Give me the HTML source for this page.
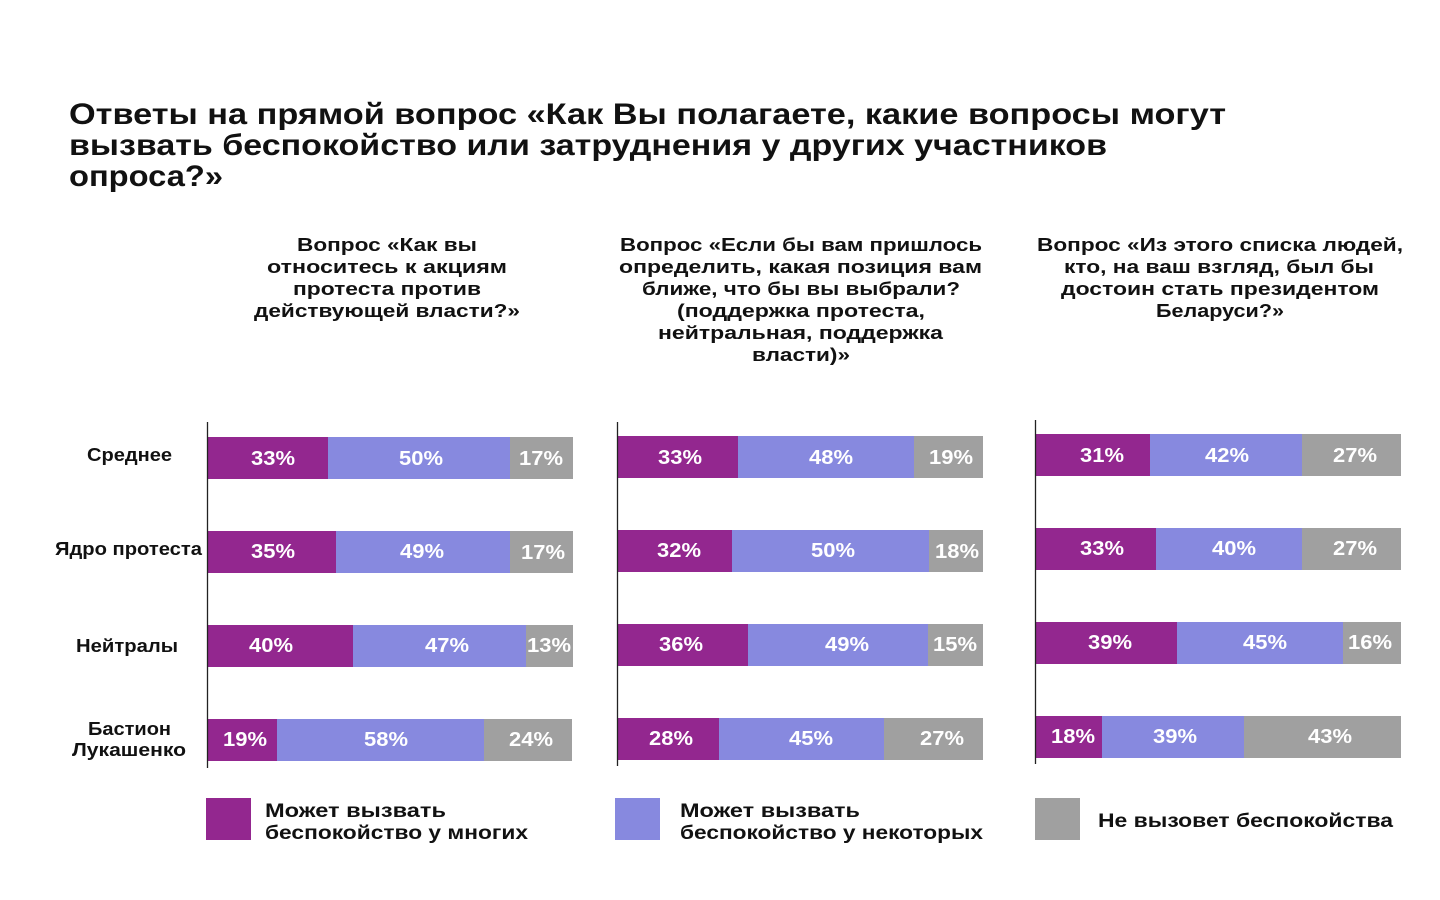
<!DOCTYPE html>
<html>
<head>
<meta charset="utf-8">
<style>
  html,body{margin:0;padding:0;background:#fff;}
  svg{display:block;}
  text{font-family:"Liberation Sans","DejaVu Sans",sans-serif;font-weight:bold;}
  .t{font-size:29.5px;fill:#111;}
  .h{font-size:18.5px;fill:#111;}
  .r{font-size:18px;fill:#111;}
  .p{font-size:20px;fill:#fff;}
  .l{font-size:19px;fill:#111;}
</style>
</head>
<body>
<svg width="1440" height="900" viewBox="0 0 1440 900" xmlns="http://www.w3.org/2000/svg">
  <rect width="1440" height="900" fill="#fff"/>

  <!-- Title -->
  <text class="t" x="69" y="124" textLength="1157" lengthAdjust="spacingAndGlyphs">Ответы на прямой вопрос «Как Вы полагаете, какие вопросы могут</text>
  <text class="t" x="69" y="155" textLength="1038" lengthAdjust="spacingAndGlyphs">вызвать беспокойство или затруднения у других участников</text>
  <text class="t" x="69" y="186" textLength="154" lengthAdjust="spacingAndGlyphs">опроса?»</text>

  <!-- Panel headers -->
  <text class="h" x="297" y="251" textLength="180" lengthAdjust="spacingAndGlyphs">Вопрос «Как вы</text>
  <text class="h" x="267" y="273" textLength="240" lengthAdjust="spacingAndGlyphs">относитесь к акциям</text>
  <text class="h" x="293" y="295" textLength="188" lengthAdjust="spacingAndGlyphs">протеста против</text>
  <text class="h" x="254" y="317" textLength="266" lengthAdjust="spacingAndGlyphs">действующей власти?»</text>

  <text class="h" x="620" y="251" textLength="362" lengthAdjust="spacingAndGlyphs">Вопрос «Если бы вам пришлось</text>
  <text class="h" x="619" y="273" textLength="363" lengthAdjust="spacingAndGlyphs">определить, какая позиция вам</text>
  <text class="h" x="642" y="295" textLength="318" lengthAdjust="spacingAndGlyphs">ближе, что бы вы выбрали?</text>
  <text class="h" x="677" y="317" textLength="248" lengthAdjust="spacingAndGlyphs">(поддержка протеста,</text>
  <text class="h" x="658" y="339" textLength="285" lengthAdjust="spacingAndGlyphs">нейтральная, поддержка</text>
  <text class="h" x="752" y="361" textLength="98" lengthAdjust="spacingAndGlyphs">власти)»</text>

  <text class="h" x="1037" y="251" textLength="366" lengthAdjust="spacingAndGlyphs">Вопрос «Из этого списка людей,</text>
  <text class="h" x="1064" y="273" textLength="310" lengthAdjust="spacingAndGlyphs">кто, на ваш взгляд, был бы</text>
  <text class="h" x="1061" y="295" textLength="318" lengthAdjust="spacingAndGlyphs">достоин стать президентом</text>
  <text class="h" x="1156" y="317" textLength="128" lengthAdjust="spacingAndGlyphs">Беларуси?»</text>

  <!-- Row labels -->
  <text class="r" x="87" y="461" textLength="85" lengthAdjust="spacingAndGlyphs">Среднее</text>
  <text class="r" x="55" y="555" textLength="147" lengthAdjust="spacingAndGlyphs">Ядро протеста</text>
  <text class="r" x="76" y="652" textLength="102" lengthAdjust="spacingAndGlyphs">Нейтралы</text>
  <text class="r" x="88" y="735" textLength="83" lengthAdjust="spacingAndGlyphs">Бастион</text>
  <text class="r" x="72" y="756" textLength="114" lengthAdjust="spacingAndGlyphs">Лукашенко</text>

  <!-- Panel 1 bars -->
  <g>
    <rect x="208" y="437" width="120" height="42" fill="#93278F"/>
    <rect x="328" y="437" width="182" height="42" fill="#8789DF"/>
    <rect x="510" y="437" width="63" height="42" fill="#A0A0A0"/>

    <rect x="208" y="531" width="128" height="42" fill="#93278F"/>
    <rect x="336" y="531" width="174" height="42" fill="#8789DF"/>
    <rect x="510" y="531" width="63" height="42" fill="#A0A0A0"/>

    <rect x="208" y="625" width="145" height="42" fill="#93278F"/>
    <rect x="353" y="625" width="173" height="42" fill="#8789DF"/>
    <rect x="526" y="625" width="47" height="42" fill="#A0A0A0"/>

    <rect x="208" y="719" width="69" height="42" fill="#93278F"/>
    <rect x="277" y="719" width="207" height="42" fill="#8789DF"/>
    <rect x="484" y="719" width="88" height="42" fill="#A0A0A0"/>
  </g>
  <line x1="207.5" y1="422" x2="207.5" y2="768" stroke="#222" stroke-width="1.3"/>

  <!-- Panel 2 bars -->
  <g>
    <rect x="618" y="436" width="120" height="42" fill="#93278F"/>
    <rect x="738" y="436" width="176" height="42" fill="#8789DF"/>
    <rect x="914" y="436" width="69" height="42" fill="#A0A0A0"/>

    <rect x="618" y="530" width="114" height="42" fill="#93278F"/>
    <rect x="732" y="530" width="197" height="42" fill="#8789DF"/>
    <rect x="929" y="530" width="54" height="42" fill="#A0A0A0"/>

    <rect x="618" y="624" width="130" height="42" fill="#93278F"/>
    <rect x="748" y="624" width="180" height="42" fill="#8789DF"/>
    <rect x="928" y="624" width="55" height="42" fill="#A0A0A0"/>

    <rect x="618" y="718" width="101" height="42" fill="#93278F"/>
    <rect x="719" y="718" width="165" height="42" fill="#8789DF"/>
    <rect x="884" y="718" width="99" height="42" fill="#A0A0A0"/>
  </g>
  <line x1="617.5" y1="422" x2="617.5" y2="766" stroke="#222" stroke-width="1.3"/>

  <!-- Panel 3 bars -->
  <g>
    <rect x="1036" y="434" width="114" height="42" fill="#93278F"/>
    <rect x="1150" y="434" width="152" height="42" fill="#8789DF"/>
    <rect x="1302" y="434" width="99" height="42" fill="#A0A0A0"/>

    <rect x="1036" y="528" width="120" height="42" fill="#93278F"/>
    <rect x="1156" y="528" width="146" height="42" fill="#8789DF"/>
    <rect x="1302" y="528" width="99" height="42" fill="#A0A0A0"/>

    <rect x="1036" y="622" width="141" height="42" fill="#93278F"/>
    <rect x="1177" y="622" width="166" height="42" fill="#8789DF"/>
    <rect x="1343" y="622" width="58" height="42" fill="#A0A0A0"/>

    <rect x="1036" y="716" width="66" height="42" fill="#93278F"/>
    <rect x="1102" y="716" width="142" height="42" fill="#8789DF"/>
    <rect x="1244" y="716" width="157" height="42" fill="#A0A0A0"/>
  </g>
  <line x1="1035.5" y1="420" x2="1035.5" y2="764" stroke="#222" stroke-width="1.3"/>

  <!-- Percent labels panel 1 -->
  <text class="p" x="251" y="465" textLength="44" lengthAdjust="spacingAndGlyphs">33%</text>
  <text class="p" x="399" y="465" textLength="44" lengthAdjust="spacingAndGlyphs">50%</text>
  <text class="p" x="519" y="465" textLength="44" lengthAdjust="spacingAndGlyphs">17%</text>

  <text class="p" x="251" y="558" textLength="44" lengthAdjust="spacingAndGlyphs">35%</text>
  <text class="p" x="400" y="558" textLength="44" lengthAdjust="spacingAndGlyphs">49%</text>
  <text class="p" x="521" y="559" textLength="44" lengthAdjust="spacingAndGlyphs">17%</text>

  <text class="p" x="249" y="652" textLength="44" lengthAdjust="spacingAndGlyphs">40%</text>
  <text class="p" x="425" y="652" textLength="44" lengthAdjust="spacingAndGlyphs">47%</text>
  <text class="p" x="527" y="652" textLength="44" lengthAdjust="spacingAndGlyphs">13%</text>

  <text class="p" x="223" y="746" textLength="44" lengthAdjust="spacingAndGlyphs">19%</text>
  <text class="p" x="364" y="746" textLength="44" lengthAdjust="spacingAndGlyphs">58%</text>
  <text class="p" x="509" y="746" textLength="44" lengthAdjust="spacingAndGlyphs">24%</text>

  <!-- Percent labels panel 2 -->
  <text class="p" x="658" y="464" textLength="44" lengthAdjust="spacingAndGlyphs">33%</text>
  <text class="p" x="809" y="464" textLength="44" lengthAdjust="spacingAndGlyphs">48%</text>
  <text class="p" x="929" y="464" textLength="44" lengthAdjust="spacingAndGlyphs">19%</text>

  <text class="p" x="657" y="557" textLength="44" lengthAdjust="spacingAndGlyphs">32%</text>
  <text class="p" x="811" y="557" textLength="44" lengthAdjust="spacingAndGlyphs">50%</text>
  <text class="p" x="935" y="558" textLength="44" lengthAdjust="spacingAndGlyphs">18%</text>

  <text class="p" x="659" y="651" textLength="44" lengthAdjust="spacingAndGlyphs">36%</text>
  <text class="p" x="825" y="651" textLength="44" lengthAdjust="spacingAndGlyphs">49%</text>
  <text class="p" x="933" y="651" textLength="44" lengthAdjust="spacingAndGlyphs">15%</text>

  <text class="p" x="649" y="745" textLength="44" lengthAdjust="spacingAndGlyphs">28%</text>
  <text class="p" x="789" y="745" textLength="44" lengthAdjust="spacingAndGlyphs">45%</text>
  <text class="p" x="920" y="745" textLength="44" lengthAdjust="spacingAndGlyphs">27%</text>

  <!-- Percent labels panel 3 -->
  <text class="p" x="1080" y="462" textLength="44" lengthAdjust="spacingAndGlyphs">31%</text>
  <text class="p" x="1205" y="462" textLength="44" lengthAdjust="spacingAndGlyphs">42%</text>
  <text class="p" x="1333" y="462" textLength="44" lengthAdjust="spacingAndGlyphs">27%</text>

  <text class="p" x="1080" y="555" textLength="44" lengthAdjust="spacingAndGlyphs">33%</text>
  <text class="p" x="1212" y="555" textLength="44" lengthAdjust="spacingAndGlyphs">40%</text>
  <text class="p" x="1333" y="555" textLength="44" lengthAdjust="spacingAndGlyphs">27%</text>

  <text class="p" x="1088" y="649" textLength="44" lengthAdjust="spacingAndGlyphs">39%</text>
  <text class="p" x="1243" y="649" textLength="44" lengthAdjust="spacingAndGlyphs">45%</text>
  <text class="p" x="1348" y="649" textLength="44" lengthAdjust="spacingAndGlyphs">16%</text>

  <text class="p" x="1051" y="743" textLength="44" lengthAdjust="spacingAndGlyphs">18%</text>
  <text class="p" x="1153" y="743" textLength="44" lengthAdjust="spacingAndGlyphs">39%</text>
  <text class="p" x="1308" y="743" textLength="44" lengthAdjust="spacingAndGlyphs">43%</text>

  <!-- Legend -->
  <rect x="206" y="798" width="45" height="42" fill="#93278F"/>
  <text class="l" x="265" y="817" textLength="181" lengthAdjust="spacingAndGlyphs">Может вызвать</text>
  <text class="l" x="265" y="839" textLength="263" lengthAdjust="spacingAndGlyphs">беспокойство у многих</text>

  <rect x="615" y="798" width="45" height="42" fill="#8789DF"/>
  <text class="l" x="680" y="817" textLength="180" lengthAdjust="spacingAndGlyphs">Может вызвать</text>
  <text class="l" x="680" y="839" textLength="303" lengthAdjust="spacingAndGlyphs">беспокойство у некоторых</text>

  <rect x="1035" y="798" width="45" height="42" fill="#A0A0A0"/>
  <text class="l" x="1098" y="827" textLength="295" lengthAdjust="spacingAndGlyphs">Не вызовет беспокойства</text>
</svg>
</body>
</html>
